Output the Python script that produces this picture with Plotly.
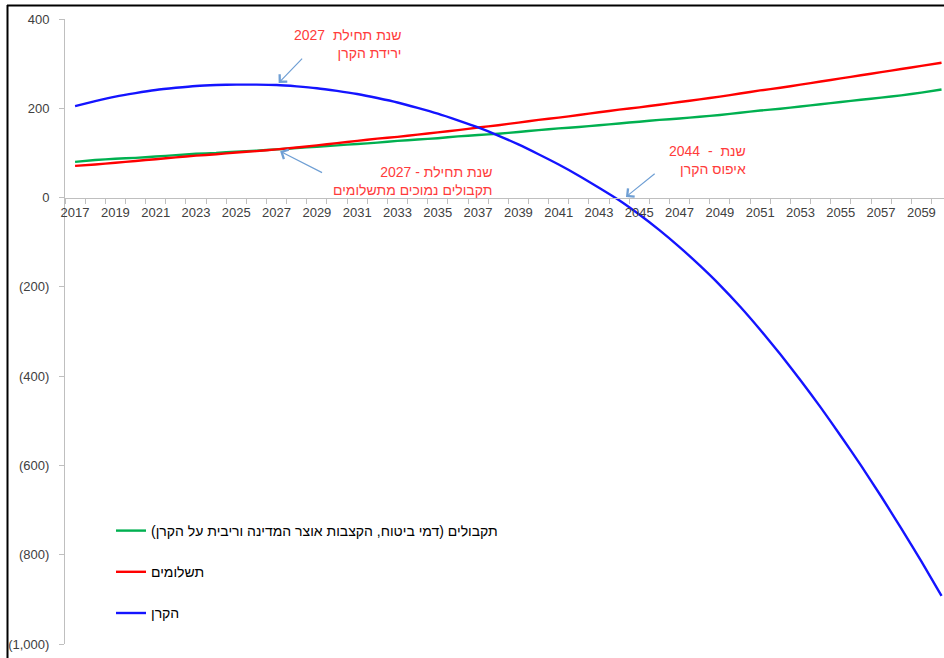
import plotly.graph_objects as go

# ---------------- data ----------------
YEARS = list(range(2017, 2061))

RECEIPTS = [80, 84, 87, 89, 92, 95, 98, 100, 103, 105,
            108, 111, 114, 117, 120, 123, 127, 130, 133, 137,
            140, 143, 147, 151, 155, 158, 162, 166, 170, 174,
            177, 181, 185, 190, 195, 199, 204, 209, 214, 219,
            224, 229, 235, 242]

PAYMENTS = [71, 74, 78, 82, 86, 90, 94, 97, 101, 104,
            108, 112, 117, 122, 127, 132, 136, 141, 146, 151,
            157, 162, 168, 174, 179, 185, 191, 197, 202, 208,
            214, 220, 226, 233, 240, 246, 253, 260, 267, 274,
            281, 288, 295, 302]

FUND = [205, 216, 226, 234, 241, 246, 250, 252, 253, 253,
        252, 249, 245, 239, 232, 223, 213, 201, 188, 173,
        157, 139, 119, 97, 74, 49, 22, -6, -38, -73,
        -111, -152, -196, -244, -296, -351, -409, -470, -534, -600,
        -669, -741, -815, -892]

SERIES_NAMES = [
    "תקבולים (דמי ביטוח, הקצבות אוצר המדינה וריבית על הקרן)",
    "תשלומים",
    "הקרן",
]
SERIES_COLORS = ["#00b050", "#ff0000", "#1414ff"]

X_TICK_YEARS = YEARS[::2]
X_TICK_TEXT = [str(y) for y in X_TICK_YEARS]
Y_TICK_VALS = [400, 200, 0, -200, -400, -600, -800, -1000]
Y_TICK_TEXT = ["400", "200", "0", "(200)", "(400)", "(600)", "(800)", "(1,000)"]

ANN_TEXTS = [
    "שנת תחילת  2027<br>ירידת הקרן",
    "שנת תחילת - 2027<br>תקבולים נמוכים מתשלומים",
    "שנת  -  2044<br>איפוס הקרן",
]

# ---------------- layout helpers (pixel -> paper) ----------------
W, H = 944, 658
L, R, T, B = 65, 0, 19, 14
PW, PH = W - L - R, H - T - B
PX_PER_YEAR = 20.15


def px(x):
    return (x - L) / PW


def py(y):
    return (H - B - y) / PH


fig = go.Figure()
for vals, name, col in zip([RECEIPTS, PAYMENTS, FUND], SERIES_NAMES, SERIES_COLORS):
    fig.add_trace(go.Scatter(
        x=YEARS, y=vals, name=name, mode="lines",
        line=dict(color=col, width=2.4, shape="spline", smoothing=0.5),
        legendgroup=name,
    ))

font_family = "Arial, Liberation Sans, sans-serif"
ann_color = "#ff3b3b"
arrow_color = "#6f9fd4"

annotations = [
    # texts
    dict(text=ANN_TEXTS[0], xref="paper", yref="paper", x=px(404), y=py(44),
         xanchor="right", yanchor="middle", align="right", showarrow=False,
         font=dict(size=14, color=ann_color, family=font_family)),
    dict(text=ANN_TEXTS[1], xref="paper", yref="paper", x=px(494), y=py(181),
         xanchor="right", yanchor="middle", align="right", showarrow=False,
         font=dict(size=14, color=ann_color, family=font_family)),
    dict(text=ANN_TEXTS[2], xref="paper", yref="paper", x=px(748), y=py(160),
         xanchor="right", yanchor="middle", align="right", showarrow=False,
         font=dict(size=14, color=ann_color, family=font_family)),
    # arrows
    dict(text="", x=2027, y=FUND[YEARS.index(2027)], xref="x", yref="y",
         showarrow=True, ax=27, ay=-28, arrowcolor=arrow_color, arrowwidth=1.2,
         arrowhead=4, arrowsize=1.7, standoff=3),
    dict(text="", x=2027, y=PAYMENTS[YEARS.index(2027)], xref="x", yref="y",
         showarrow=True, ax=47, ay=24, arrowcolor=arrow_color, arrowwidth=1.2,
         arrowhead=4, arrowsize=1.7, standoff=4),
    dict(text="", x=2044.3, y=0, xref="x", yref="y",
         showarrow=True, ax=31, ay=-25, arrowcolor=arrow_color, arrowwidth=1.2,
         arrowhead=4, arrowsize=1.7, standoff=1),
]

shapes = [
    dict(type="line", xref="paper", yref="paper", x0=px(7), x1=px(950),
         y0=py(5.5), y1=py(5.5), line=dict(color="black", width=2)),
    dict(type="line", xref="paper", yref="paper", x0=px(7.5), x1=px(7.5),
         y0=py(5), y1=py(665), line=dict(color="black", width=2)),
]

fig.update_layout(
    width=W, height=H, autosize=False,
    margin=dict(l=L, r=R, t=T, b=B, pad=0),
    paper_bgcolor="white", plot_bgcolor="white",
    font=dict(family=font_family, size=13, color="#404040"),
    showlegend=True,
    legend=dict(x=px(111), y=py(515), xanchor="left", yanchor="top",
                bgcolor="rgba(0,0,0,0)", font=dict(size=14, color="#000000"),
                tracegroupgap=20, itemwidth=30, traceorder="grouped"),
    xaxis=dict(
        range=[2016.5, 2016.5 + PW / PX_PER_YEAR],
        anchor="free", position=py(197.6),
        showline=True, linecolor="#bfbfbf", linewidth=1,
        tickmode="array", tickvals=X_TICK_YEARS, ticktext=X_TICK_TEXT,
        ticks="", showgrid=False, zeroline=False, ticklabelstandoff=3,
        tickfont=dict(size=13, color="#404040"),
        minor=dict(ticks="outside", ticklen=5, tickcolor="#bfbfbf",
                   tick0=2016.5, dtick=1, showgrid=False),
    ),
    yaxis=dict(
        range=[-1000, 400],
        tickmode="array", tickvals=Y_TICK_VALS, ticktext=Y_TICK_TEXT,
        ticks="outside", ticklen=5, tickcolor="#bfbfbf",
        showline=True, linecolor="#bfbfbf", linewidth=1,
        showgrid=False, zeroline=False, ticklabelstandoff=7,
        tickfont=dict(size=13, color="#404040"),
    ),
    annotations=annotations,
    shapes=shapes,
)

fig.write_html("out.html", config={"displayModeBar": False},
               post_script="document.body.style.margin='0';")
